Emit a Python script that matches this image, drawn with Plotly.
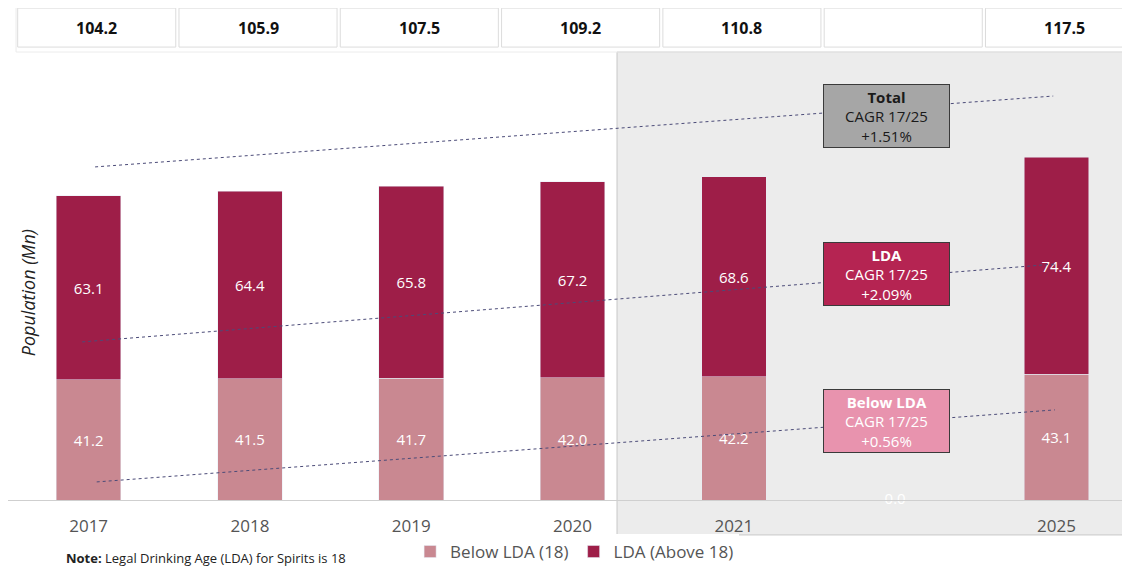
import plotly.graph_objects as go

categories = ["2017", "2018", "2019", "2020", "2021", " ", "2025"]
below_lda = [41.2, 41.5, 41.7, 42.0, 42.2, None, 43.1]
lda = [63.1, 64.4, 65.8, 67.2, 68.6, None, 74.4]
totals = ["104.2", "105.9", "107.5", "109.2", "110.8", "", "117.5"]
gap_value = [0.0]
gap_label = ["0.0"]

# CAGR callouts
cagr_names = ["Total", "LDA", "Below LDA"]
cagr_values = ["+1.51%", "+2.09%", "+0.56%"]
cagr_y = [131.6, 77.5, 27.1]
cagr_fill = ["#a6a6a6", "#b52452", "#e893ae"]
cagr_font = ["#1a1a1a", "#ffffff", "#ffffff"]
# trend lines: start/end (category position, value)
trend_x0 = [0.04, -0.04, 0.05]
trend_x1 = [5.98, 5.99, 5.99]
trend_start = [114.2, 54.2, 6.2]
trend_end = [138.5, 80.9, 30.9]

C_BELOW = "#c98891"
C_LDA = "#9e1e48"
FONT = "Open Sans"

fig = go.Figure()
fig.add_trace(go.Bar(
    x=categories, y=below_lda, name="Below LDA (18)", marker_color=C_BELOW,
    text=[f"{v:.1f}" if v is not None else "" for v in below_lda],
    textposition="inside", insidetextanchor="middle",
    textfont=dict(color="white", size=15, family=FONT), width=0.4,
))
fig.add_trace(go.Bar(
    x=categories, y=lda, name="LDA (Above 18)", marker_color=C_LDA,
    text=[f"{v:.1f}" if v is not None else "" for v in lda],
    textposition="inside", insidetextanchor="middle",
    textfont=dict(color="white", size=15, family=FONT), width=0.4,
))
fig.add_trace(go.Scatter(
    x=[categories[5]], y=gap_value, mode="text", text=gap_label,
    textfont=dict(color="white", size=15, family=FONT), showlegend=False,
    hoverinfo="skip", cliponaxis=False,
))

shapes = []
# shaded forecast region
shapes.append(dict(type="rect", xref="paper", yref="paper", x0=0.5428, x1=1.0,
                   y0=-0.078, y1=1.0, fillcolor="#ececec",
                   line=dict(color="#c8c8c8", width=1), layer="below"))
# top row frame
shapes.append(dict(type="rect", xref="x", yref="paper", x0=-0.45, x1=6.46,
                   y0=1.0, y1=1.105, fillcolor="rgba(0,0,0,0)",
                   line=dict(color="#ececec", width=1)))
annotations = []
for i, t in enumerate(totals):
    shapes.append(dict(type="rect", xref="x", yref="paper", x0=i - 0.44, x1=i + 0.54,
                       y0=1.011, y1=1.098, fillcolor="white",
                       line=dict(color="#dcdcdc", width=1)))
    if t:
        annotations.append(dict(x=i + 0.05, y=1.0545, xref="x", yref="paper",
                                xanchor="center", yanchor="middle",
                                text=f"<b>{t}</b>", showarrow=False,
                                font=dict(size=16, color="#111", family=FONT)))
# trend lines
for x0, x1, s, e in zip(trend_x0, trend_x1, trend_start, trend_end):
    shapes.append(dict(type="line", xref="x", yref="y", x0=x0, x1=x1, y0=s, y1=e,
                       line=dict(color="#4b4b78", width=1, dash="dot")))
# CAGR callouts
for n, v, yv, fc, tc in zip(cagr_names, cagr_values, cagr_y, cagr_fill, cagr_font):
    annotations.append(dict(x=4.946, y=yv, xref="x", yref="y",
                            xanchor="center", yanchor="middle",
                            text=f"<b>{n}</b><br>CAGR 17/25<br>{v}", showarrow=False,
                            bgcolor=fc, bordercolor="#3a3a3a", borderwidth=1,
                            borderpad=1, width=123, height=60,
                            font=dict(size=15, color=tc, family=FONT)))
# y title
annotations.append(dict(x=0.018, y=0.462, xref="paper", yref="paper",
                        xanchor="center", yanchor="middle",
                        text="<i>Population (Mn)</i>", textangle=-90, showarrow=False,
                        font=dict(size=18, color="#222", family=FONT)))
# note
annotations.append(dict(x=0.05, y=-0.154, xref="paper", yref="paper",
                        xanchor="left", yanchor="bottom",
                        text="<b>Note:</b> Legal Drinking Age (LDA) for Spirits is 18",
                        showarrow=False, font=dict(size=13, color="#222", family=FONT)))

# the page body adds an 8px offset, so margins compensate for it
fig.update_layout(
    width=1130, height=570, barmode="stack",
    margin=dict(l=0, r=8, t=44, b=78),
    plot_bgcolor="rgba(0,0,0,0)", paper_bgcolor="white",
    font=dict(family=FONT),
    shapes=shapes, annotations=annotations,
    legend=dict(orientation="h", x=0.505, xanchor="center", y=-0.116, yanchor="middle",
                font=dict(size=17, color="#555", family=FONT), traceorder="normal",
                itemwidth=30),
    xaxis=dict(range=[-0.5, 6.456], showline=True, linecolor="#cfcfcf", linewidth=1,
               ticks="", ticklabelstandoff=11,
               tickfont=dict(size=17, color="#555", family=FONT),
               showgrid=False, fixedrange=True),
    yaxis=dict(range=[0, 153.6], visible=False, showgrid=False, zeroline=False),
    bargap=0.6,
)
fig.write_html("out.html")
